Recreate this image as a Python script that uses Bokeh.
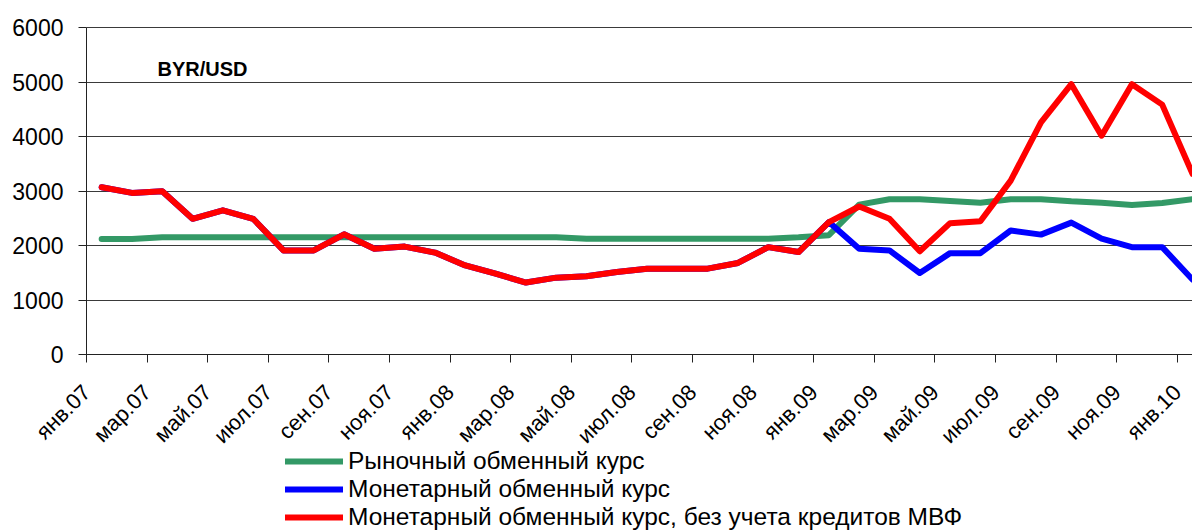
import math
from bokeh.plotting import figure
from bokeh.models import Range1d, FixedTicker, Legend, LegendItem, Label, Grid
from bokeh.embed import file_html
from bokeh.resources import INLINE

# ---------------- data ----------------
months = ["янв.07", "фев.07", "мар.07", "апр.07", "май.07", "июн.07", "июл.07", "авг.07",
          "сен.07", "окт.07", "ноя.07", "дек.07",
          "янв.08", "фев.08", "мар.08", "апр.08", "май.08", "июн.08", "июл.08", "авг.08",
          "сен.08", "окт.08", "ноя.08", "дек.08",
          "янв.09", "фев.09", "мар.09", "апр.09", "май.09", "июн.09", "июл.09", "авг.09",
          "сен.09", "окт.09", "ноя.09", "дек.09",
          "янв.10"]

market = [2120, 2120, 2150, 2150, 2150, 2150, 2150, 2150, 2150, 2150,
          2150, 2150, 2150, 2150, 2150, 2150, 2125, 2125, 2125, 2125,
          2125, 2125, 2125, 2150, 2190, 2750, 2850, 2850, 2815, 2785,
          2850, 2850, 2810, 2785, 2745, 2780, 2850]

monetary = [3070, 2965, 2995, 2490, 2645, 2490, 1910, 1910, 2205, 1940,
            1980, 1870, 1635, 1485, 1320, 1410, 1435, 1515, 1575, 1575,
            1575, 1680, 1970, 1880, 2430, 1940, 1910, 1495, 1860, 1860,
            2275, 2200, 2420, 2125, 1970, 1970, 1375]

monetary_no_imf = [3070, 2965, 2995, 2490, 2645, 2490, 1910, 1910, 2205, 1940,
                   1980, 1870, 1635, 1485, 1320, 1410, 1435, 1515, 1575, 1575,
                   1575, 1680, 1970, 1880, 2430, 2715, 2490, 1895, 2410, 2445,
                   3190, 4260, 4960, 4015, 4960, 4585, 3315]

series_names = ["Рыночный обменный курс",
                "Монетарный обменный курс",
                "Монетарный обменный курс, без учета кредитов МВФ"]
series_colors = ["#339966", "#0000FF", "#FF0000"]
y_ticks = [0, 1000, 2000, 3000, 4000, 5000, 6000]
title_text = "BYR/USD"

FONT = "Liberation Sans"

# category centres sit half a step right of the tick marks
x = [i + 0.5 for i in range(len(months))]
X_MAX = len(months) - 0.5          # last category centre
Y_TOP = 6000                        # top of value axis

W, H = 1192, 531
AX_X, AX_Y, TOP = 86, 354, 27       # pixel position of the axes corner and of the 6000 line
X_MIN = -X_MAX * AX_X / (W - AX_X)
PER_PX = Y_TOP / (AX_Y - TOP)
Y_MIN = -PER_PX * (H - AX_Y)
Y_MAX = Y_TOP + PER_PX * TOP

p = figure(width=W, height=H, output_backend="svg", toolbar_location=None,
           x_range=Range1d(X_MIN, X_MAX), y_range=Range1d(Y_MIN, Y_MAX),
           min_border_left=0, min_border_right=0, min_border_top=0,
           min_border_bottom=0)
p.outline_line_color = None
p.background_fill_color = "white"
p.border_fill_color = "white"

renderers = []
for vals, col in zip([market, monetary, monetary_no_imf], series_colors):
    r = p.line(x, vals, line_color=col, line_width=6, line_join="round", line_cap="round")
    renderers.append(r)

# axes (both pinned at the origin inside the frame)
tick_pos = list(range(0, len(months), 2))
p.xaxis.fixed_location = 0
p.xaxis.bounds = (0, X_MAX)
p.xaxis.ticker = FixedTicker(ticks=tick_pos)
p.xaxis.major_label_overrides = {k: months[k] for k in tick_pos}
p.xaxis.major_label_orientation = math.pi / 4
p.xaxis.major_label_text_font = FONT
p.xaxis.major_label_text_font_size = "22px"
p.xaxis.major_label_text_color = "black"
p.xaxis.major_label_standoff = 26
p.xaxis.major_tick_out = 8
p.xaxis.major_tick_in = 0
p.xaxis.minor_tick_out = 0
p.xaxis.minor_tick_in = 0
p.xaxis.axis_line_color = "#222222"
p.xaxis.major_tick_line_color = "#222222"

p.yaxis.fixed_location = 0
p.yaxis.bounds = (0, Y_TOP)
p.yaxis.ticker = FixedTicker(ticks=y_ticks)
p.yaxis.major_label_text_font = FONT
p.yaxis.major_label_text_font_size = "23px"
p.yaxis.major_label_text_color = "black"
p.yaxis.major_label_standoff = 15
p.yaxis.major_tick_out = 8
p.yaxis.major_tick_in = 0
p.yaxis.minor_tick_out = 0
p.yaxis.minor_tick_in = 0
p.yaxis.axis_line_color = "#222222"
p.yaxis.major_tick_line_color = "#222222"

p.xgrid.visible = False
p.ygrid.grid_line_color = "#3a3a3a"
p.ygrid.grid_line_width = 1
if "cross_bounds" in Grid.properties():
    p.ygrid.cross_bounds = (0, X_MAX + 1)
else:
    p.ygrid.visible = False
    p.segment(x0=[0] * len(y_ticks), x1=[X_MAX + 1] * len(y_ticks), y0=y_ticks, y1=y_ticks,
              line_color="#3a3a3a", line_width=1, level="underlay")

# title-like label inside plot (screen units from frame bottom-left)
p.add_layout(Label(x=AX_X + 71, y=H - 68, x_units="screen", y_units="screen", text=title_text,
                   text_font=FONT, text_font_style="bold", text_font_size="20px",
                   text_color="black", text_baseline="alphabetic", text_align="left"))

legend = Legend(items=[LegendItem(label=n, renderers=[r]) for n, r in zip(series_names, renderers)],
                location=(285, 0), orientation="vertical",
                label_text_font=FONT, label_text_font_size="24.5px", label_text_color="black",
                glyph_width=58, glyph_height=22, label_height=22, label_standoff=5,
                spacing=0, padding=0, margin=0,
                border_line_color=None, background_fill_alpha=0)
p.add_layout(legend, "center")

open("out.html", "w").write(file_html(p, INLINE))
